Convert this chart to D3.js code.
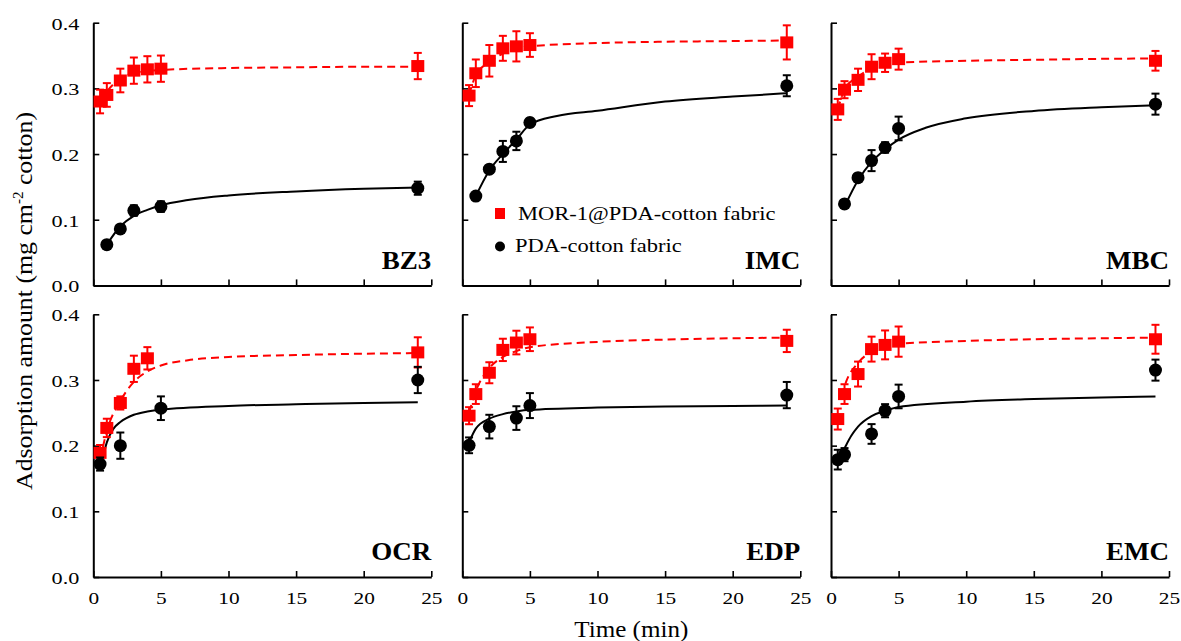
<!DOCTYPE html>
<html>
<head>
<meta charset="utf-8">
<script src="https://cdn.jsdelivr.net/npm/d3@7"></script>
<style>
  body { margin: 0; background: #fff; }
  svg { display: block; font-family: "Liberation Serif", "Times New Roman", serif; }
  svg text { font-family: "Liberation Serif", "Times New Roman", serif; }
</style>
</head>
<body>
<svg width="1181" height="641"></svg>
<script>
// panel names and axis ticks
var panels = ['BZ3', 'IMC', 'MBC', 'OCR', 'EDP', 'EMC'];
var xTicks = [0, 5, 10, 15, 20, 25];
var yTicks = [0, 0.1, 0.2, 0.3, 0.4];

// MOR-1@PDA-cotton fabric (red squares)
var redT = [
  [0.5, 1, 2, 3, 4, 5, 24],
  [0.5, 1, 2, 3, 4, 5, 24],
  [0.5, 1, 2, 3, 4, 5, 24],
  [0.5, 1, 2, 3, 4, 24],
  [0.5, 1, 2, 3, 4, 5, 24],
  [0.5, 1, 2, 3, 4, 5, 24]
];
var redY = [
  [0.28, 0.29, 0.312, 0.327, 0.329, 0.33, 0.334],
  [0.289, 0.323, 0.342, 0.361, 0.364, 0.366, 0.37],
  [0.268, 0.298, 0.313, 0.333, 0.339, 0.3445, 0.342],
  [0.189, 0.227, 0.265, 0.317, 0.333, 0.342],
  [0.2456, 0.2785, 0.311, 0.3458, 0.357, 0.362, 0.3595],
  [0.2405, 0.2785, 0.309, 0.347, 0.3534, 0.3584, 0.362]
];
var redErr = [
  [0.018, 0.018, 0.018, 0.02, 0.02, 0.02, 0.02],
  [0.016, 0.021, 0.024, 0.019, 0.023, 0.018, 0.026],
  [0.016, 0.013, 0.017, 0.019, 0.014, 0.016, 0.015],
  [0.012, 0.014, 0.01, 0.02, 0.017, 0.023],
  [0.013, 0.015, 0.016, 0.017, 0.018, 0.018, 0.017],
  [0.016, 0.015, 0.019, 0.019, 0.022, 0.023, 0.022]
];

// PDA-cotton fabric (black circles)
var blackT = [
  [1, 2, 3, 5, 24],
  [1, 2, 3, 4, 5, 24],
  [1, 2, 3, 4, 5, 24],
  [0.5, 2, 5, 24],
  [0.5, 2, 4, 5, 24],
  [0.5, 1, 3, 4, 5, 24]
];
var blackY = [
  [0.062, 0.086, 0.114, 0.12, 0.148],
  [0.136, 0.177, 0.204, 0.22, 0.248, 0.304],
  [0.124, 0.164, 0.19, 0.21, 0.239, 0.276],
  [0.172, 0.2, 0.257, 0.3],
  [0.2005, 0.229, 0.242, 0.261, 0.277],
  [0.1787, 0.1863, 0.2178, 0.2532, 0.2749, 0.315]
];
var blackErr = [
  [0.005, 0.006, 0.008, 0.008, 0.01],
  [0.004, 0.005, 0.016, 0.014, 0.006, 0.016],
  [0.006, 0.006, 0.016, 0.008, 0.018, 0.016],
  [0.01, 0.02, 0.018, 0.02],
  [0.012, 0.018, 0.018, 0.019, 0.02],
  [0.015, 0.01, 0.015, 0.01, 0.018, 0.016]
];

// fitted curves
var redFitT = [
  [0.5, 1, 2, 3, 5, 10, 15, 20, 24],
  [0.5, 1, 2, 3, 4, 5, 10, 15, 20, 24],
  [0.5, 1, 2, 3, 4, 5, 10, 15, 20, 24],
  [0.5, 1, 2, 3, 4, 5, 7, 10, 15, 20, 24],
  [0.5, 1, 2, 3, 4, 5, 10, 15, 20, 24],
  [0.8, 1, 2, 3, 4, 5, 10, 15, 20, 24]
];
var redFitY = [
  [0.28, 0.295, 0.315, 0.323, 0.328, 0.331, 0.332, 0.333, 0.333],
  [0.29, 0.32, 0.34, 0.353, 0.36, 0.364, 0.369, 0.371, 0.372, 0.373],
  [0.268, 0.298, 0.318, 0.33, 0.336, 0.339, 0.342, 0.3435, 0.345, 0.3455],
  [0.178, 0.222, 0.268, 0.297, 0.313, 0.322, 0.33, 0.335, 0.338, 0.34, 0.341],
  [0.25, 0.283, 0.318, 0.335, 0.344, 0.35, 0.358, 0.3615, 0.3635, 0.3645],
  [0.275, 0.29, 0.326, 0.343, 0.351, 0.355, 0.3595, 0.362, 0.3635, 0.3645]
];
var blackFitT = [
  [1, 2, 3, 4, 5, 7, 10, 15, 20, 24],
  [1, 2, 3, 4, 5, 7, 10, 15, 20, 24],
  [1, 2, 3, 4, 5, 7, 10, 15, 20, 24],
  [0.6, 1, 1.5, 2, 3, 4, 5, 10, 15, 20, 24],
  [0.5, 1, 2, 3, 4, 5, 10, 15, 20, 24],
  [0.6, 1, 1.5, 2, 3, 4, 5, 10, 15, 20, 24]
];
var blackFitY = [
  [0.062, 0.09, 0.106, 0.115, 0.122, 0.13, 0.137, 0.143, 0.147, 0.149],
  [0.136, 0.175, 0.2, 0.222, 0.245, 0.258, 0.266, 0.28, 0.2875, 0.2926],
  [0.12, 0.16, 0.188, 0.207, 0.222, 0.24, 0.2545, 0.2656, 0.2712, 0.2744],
  [0.172, 0.205, 0.226, 0.236, 0.247, 0.252, 0.255, 0.2605, 0.263, 0.265, 0.266],
  [0.205, 0.226, 0.241, 0.248, 0.252, 0.2545, 0.258, 0.2598, 0.2605, 0.261],
  [0.18, 0.196, 0.215, 0.229, 0.245, 0.253, 0.259, 0.267, 0.271, 0.2735, 0.275]
];

var colX = [93.3, 462.3, 831];
var rowY = [22.7, 314.3];
var pw = 338, ph = 262.7;
var red = '#ff0000';
var serif = '"Liberation Serif", "Times New Roman", serif';

var svg = d3.select('svg');

// stretch text horizontally like the original (it was resized non-uniformly)
function stretch(sel, k) {
  sel.each(function() {
    var w = this.getComputedTextLength();
    d3.select(this).attr('textLength', w * k).attr('lengthAdjust', 'spacingAndGlyphs');
  });
}

panels.forEach(function(name, i) {
  var col = i % 3, row = Math.floor(i / 3);
  var g = svg.append('g')
    .attr('transform', 'translate(' + [colX[col], rowY[row]] + ')');

  var x = d3.scaleLinear().domain([0, 25]).range([0, pw]);
  var y = d3.scaleLinear().domain([0, 0.4]).range([ph, 0]);

  // axes
  var xAxis = d3.axisBottom(x).tickValues(xTicks)
    .tickSizeInner(-6).tickSizeOuter(0).tickPadding(15)
    .tickFormat(row === 1 ? d3.format('d') : '');
  var yAxis = d3.axisLeft(y).tickValues(yTicks)
    .tickSizeInner(-6).tickSizeOuter(0).tickPadding(14)
    .tickFormat(col === 0 ? d3.format('.1f') : '');

  var gx = g.append('g').attr('transform', 'translate(0,' + ph + ')').call(xAxis);
  var gy = g.append('g').call(yAxis);
  [gx, gy].forEach(function(a) {
    a.attr('font-family', null).attr('font-size', null);
    a.select('.domain').attr('stroke-width', 2);
    a.selectAll('.tick line').attr('stroke-width', 1.6);
    a.selectAll('.tick text')
      .style('font-family', serif)
      .style('font-size', '17.5px')
      .attr('fill', '#000');
  });
  gy.selectAll('.tick text').attr('dy', '0.36em');
  stretch(gx.selectAll('.tick text'), 1.22);
  stretch(gy.selectAll('.tick text'), 1.27);

  // fit curves
  var line = d3.line()
    .x(function(d) { return x(d[0]); })
    .y(function(d) { return y(d[1]); })
    .curve(d3.curveMonotoneX);

  g.append('path')
    .attr('d', line(d3.zip(redFitT[i], redFitY[i])))
    .attr('fill', 'none')
    .attr('stroke', red)
    .attr('stroke-width', 2)
    .attr('stroke-dasharray', '8,5');

  g.append('path')
    .attr('d', line(d3.zip(blackFitT[i], blackFitY[i])))
    .attr('fill', 'none')
    .attr('stroke', '#000')
    .attr('stroke-width', 2);

  // error bars
  function errBars(ts, ys, es, color) {
    var data = d3.zip(ts, ys, es);
    var eg = g.append('g').attr('stroke', color).attr('stroke-width', 2);
    eg.selectAll('line.v').data(data).join('line')
      .attr('x1', d => x(d[0])).attr('x2', d => x(d[0]))
      .attr('y1', d => y(d[1] - d[2])).attr('y2', d => y(d[1] + d[2]));
    eg.selectAll('line.t').data(data).join('line')
      .attr('x1', d => x(d[0]) - 4).attr('x2', d => x(d[0]) + 4)
      .attr('y1', d => y(d[1] + d[2])).attr('y2', d => y(d[1] + d[2]));
    eg.selectAll('line.b').data(data).join('line')
      .attr('x1', d => x(d[0]) - 4).attr('x2', d => x(d[0]) + 4)
      .attr('y1', d => y(d[1] - d[2])).attr('y2', d => y(d[1] - d[2]));
  }

  errBars(redT[i], redY[i], redErr[i], red);
  g.append('g').selectAll('rect').data(d3.zip(redT[i], redY[i])).join('rect')
    .attr('x', d => x(d[0]) - 6.5)
    .attr('y', d => y(d[1]) - 6)
    .attr('width', 13).attr('height', 12)
    .attr('fill', red);

  errBars(blackT[i], blackY[i], blackErr[i], '#000');
  g.append('g').selectAll('circle').data(d3.zip(blackT[i], blackY[i])).join('circle')
    .attr('cx', d => x(d[0]))
    .attr('cy', d => y(d[1]))
    .attr('r', 6.5)
    .attr('fill', '#000');

  // panel label
  var lab = g.append('text')
    .attr('x', pw)
    .attr('y', ph - 16.5)
    .attr('text-anchor', 'end')
    .attr('font-size', 25)
    .attr('font-weight', 'bold')
    .text(name);
  stretch(lab, 1.08);
});

// legend (inside IMC panel)
var leg = svg.append('g');
leg.append('rect').attr('x', 495).attr('y', 208).attr('width', 10).attr('height', 11).attr('fill', red);
leg.append('circle').attr('cx', 500).attr('cy', 246.5).attr('r', 5).attr('fill', '#000');
var l1 = leg.append('text').attr('x', 518).attr('y', 220).attr('font-size', 18)
  .text('MOR-1@PDA-cotton fabric');
var l2 = leg.append('text').attr('x', 515).attr('y', 252).attr('font-size', 18)
  .text('PDA-cotton fabric');
stretch(l1, 1.25);
stretch(l2, 1.25);

// axis titles
var xt = svg.append('text')
  .attr('x', colX[1] + pw / 2)
  .attr('y', 637)
  .attr('text-anchor', 'middle')
  .attr('font-size', 23)
  .text('Time (min)');
stretch(xt, 1.09);

var yt = svg.append('text')
  .attr('transform', 'translate(32,301) rotate(-90)')
  .attr('text-anchor', 'middle')
  .attr('font-size', 24);
yt.append('tspan').text('Adsorption amount (mg cm');
yt.append('tspan').attr('dy', -9).attr('font-size', 14).text('-2');
yt.append('tspan').attr('dy', 9).text(' cotton)');
yt.attr('textLength', 378).attr('lengthAdjust', 'spacingAndGlyphs');
</script>
</body>
</html>
